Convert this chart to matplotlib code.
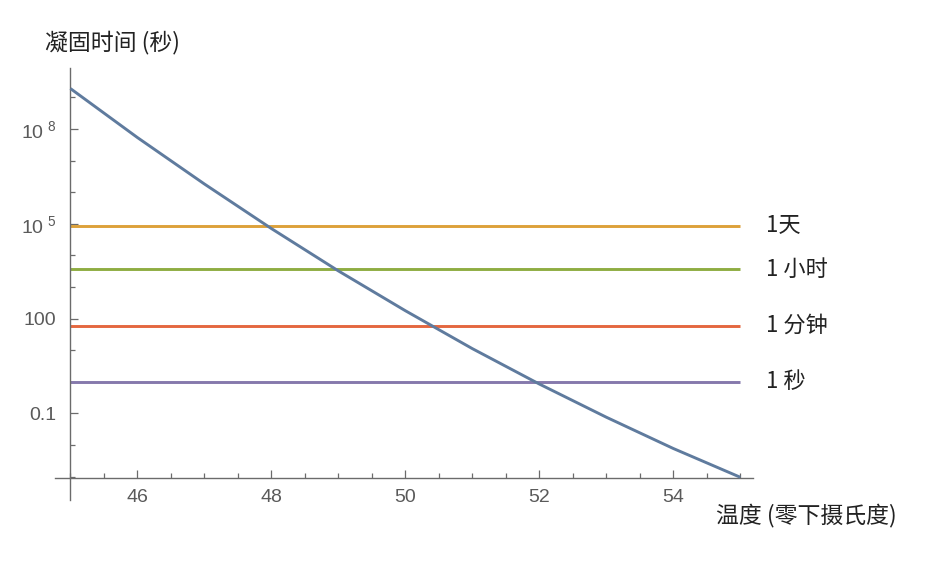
import numpy as np
import matplotlib.pyplot as plt
from matplotlib.ticker import FixedLocator, FixedFormatter, MultipleLocator

plt.rcParams['font.family'] = ['Liberation Sans Narrow', 'Liberation Sans', 'DejaVu Sans']
plt.rcParams['mathtext.default'] = 'regular'

# —— 数据 ——
temps = [45, 46, 47, 48, 49, 50, 51, 52, 53, 54, 55]            # 零下摄氏度
log_times = [9.28, 7.73, 6.26, 4.85, 3.51, 2.25, 1.05, -0.07, -1.12, -2.11, -3.02]

ref_times = [86400, 3600, 60, 1]                                 # 秒
ref_labels = ['1天', '1 小时', '1 分钟', '1 秒']
ref_colors = ['#DDA13A', '#8FAD42', '#E4673F', '#8579AC']

ytick_vals = [0.1, 100, 1e5, 1e8]
ytick_lbls = ['0.1', '100', r'$10^{\ 5}$', r'$10^{\ 8}$']

cjk = ['Noto Sans CJK SC', 'DejaVu Sans']
axis_col = '#6b6b6b'
label_col = '#5a5a5a'

W, H = 933, 563
fig = plt.figure(figsize=(W / 100, H / 100), dpi=100)
ax = fig.add_axes([55 / W, (H - 500) / H, (753 - 55) / W, (500 - 68) / H])

times = 10.0 ** np.array(log_times)
ax.plot(temps, times, color='#5F7B9E', lw=2.1, zorder=3, clip_on=False,
        solid_capstyle='butt')

for t, lab, c in zip(ref_times, ref_labels, ref_colors):
    ax.plot([temps[0], temps[-1]], [t, t], color=c, lw=2.1, zorder=2,
            solid_capstyle='butt')
    ax.text(55.39, t, lab, family=cjk, fontsize=16, color='#222222',
            ha='left', va='center')

ax.set_yscale('log')
ax.set_xlim(44.77, 55.19)
ax.set_ylim(10 ** -3.74, 10 ** 9.93)

# Mathematica 风格的坐标轴
for s in ['top', 'right']:
    ax.spines[s].set_visible(False)
ax.spines['left'].set_position(('data', 45))
ax.spines['bottom'].set_position(('data', 10 ** -3.05))
for s in ['left', 'bottom']:
    ax.spines[s].set_color(axis_col)
    ax.spines[s].set_linewidth(1.0)

ax.xaxis.set_major_locator(MultipleLocator(2))
ax.xaxis.set_minor_locator(MultipleLocator(0.5))
ax.yaxis.set_major_locator(FixedLocator(ytick_vals))
ax.yaxis.set_major_formatter(FixedFormatter(ytick_lbls))
ax.yaxis.set_minor_locator(FixedLocator([10.0 ** k for k in range(-3, 11)]))
ax.yaxis.set_minor_formatter(FixedFormatter([]))

ax.tick_params(axis='both', which='major', direction='in', length=6, width=0.9,
               color=axis_col, labelcolor=label_col, labelsize=14)
ax.tick_params(axis='both', which='minor', direction='in', length=3.5, width=0.9,
               color=axis_col)
ax.tick_params(axis='x', which='major', pad=8)
ax.tick_params(axis='y', which='major', pad=10)

fig.text(45 / W, 1 - 42 / H, '凝固时间 (秒)', family=cjk, fontsize=16.5,
         color='#222222', ha='left', va='center')
fig.text(716 / W, 1 - 515 / H, '温度 (零下摄氏度)', family=cjk, fontsize=16.5,
         color='#222222', ha='left', va='center')

fig.savefig('out.png', dpi=100)
